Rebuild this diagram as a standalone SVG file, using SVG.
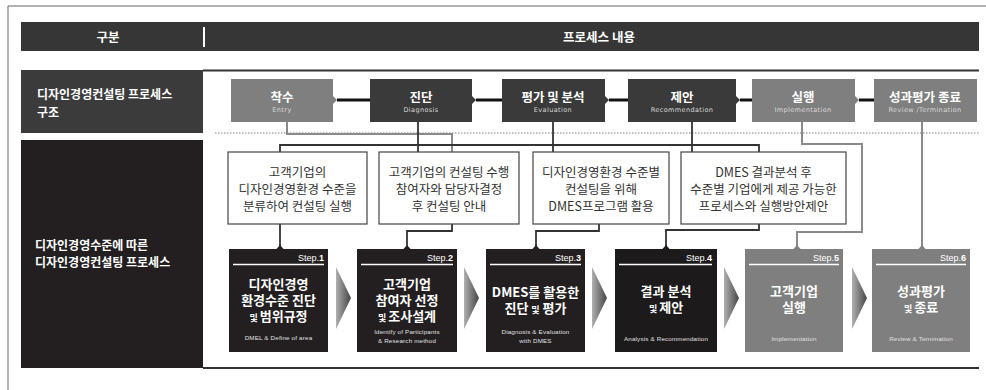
<svg xmlns="http://www.w3.org/2000/svg" width="986" height="390" viewBox="0 0 986 390">
<style>
.kb{font-family:"Noto Sans CJK KR","Noto Sans",sans-serif;font-weight:bold;fill:#fff}
.kr{font-family:"Noto Sans CJK KR","Noto Sans",sans-serif;font-size:12.5px;fill:#333;text-anchor:middle}
.en{font-family:"DejaVu Sans",sans-serif;font-size:6.5px;fill:#d8d8d8;text-anchor:middle;letter-spacing:0.4px}
.es{font-family:"Liberation Sans",Arial,sans-serif;font-size:6.2px;fill:#e0e0e0;text-anchor:middle;letter-spacing:0.2px}
.st{font-family:"Liberation Sans",Arial,sans-serif;font-size:9px;fill:#fff;text-anchor:end}
.tt{font-size:12.5px;text-anchor:middle}
.sb{font-size:13px;text-anchor:middle}
.sm{font-size:9px}
.dk{fill:#3a3a3a}
.gy{fill:#7f7f7f}
.bk{fill:#231f20}
.tb{fill:#fff;stroke:#444;stroke-width:1.2}
.cd{fill:none;stroke:#333;stroke-width:1.8}
.cg{fill:none;stroke:#8a8a8a;stroke-width:2}
.ul{stroke:#fff;stroke-width:1.5}
</style>
<defs>
<linearGradient id="ag" x1="0" y1="0" x2="1" y2="0">
<stop offset="0" stop-color="#b0b0b0"/>
<stop offset="1" stop-color="#454545"/>
</linearGradient>
</defs>
<rect width="986" height="390" fill="#fff"/>
<g id="frame">
<line x1="8" y1="6" x2="986" y2="6" stroke="#666" stroke-width="1"/>
<line x1="8" y1="6" x2="8" y2="390" stroke="#666" stroke-width="1"/>
</g>
<g id="header">
<rect x="21" y="22" width="958" height="29" fill="#363636"/>
<line x1="204" y1="27" x2="204" y2="47" stroke="#fff" stroke-width="2"/>
<text class="kb tt" x="108" y="42" font-size="12">구분</text>
<text class="kb tt" x="599" y="42" font-size="12">프로세스 내용</text>
</g>
<g id="row-labels">
<rect x="21" y="70" width="182" height="63" fill="#3b3b3b"/>
<text class="kb" font-size="12"><tspan x="37" y="99">디자인경영컨설팅 프로세스</tspan><tspan x="37" y="117">구조</tspan></text>
<rect x="21" y="140" width="182" height="228" fill="#231f20"/>
<text class="kb" font-size="12"><tspan x="35" y="250">디자인경영수준에 따른</tspan><tspan x="35" y="267">디자인경영컨설팅 프로세스</tspan></text>
</g>
<g id="rules">
<line x1="203" y1="70.5" x2="979" y2="70.5" stroke="#333" stroke-width="1.8"/>
<line x1="215" y1="133" x2="979" y2="133" stroke="#aaa" stroke-width="1.5" stroke-dasharray="1.5 1.5"/>
<line x1="203" y1="368" x2="979" y2="368" stroke="#333" stroke-width="2"/>
</g>
<g id="connectors">
<line x1="337" y1="100" x2="370" y2="100" stroke="#111" stroke-width="3"/>
<line x1="476" y1="100" x2="502" y2="100" stroke="#111" stroke-width="3"/>
<line x1="609" y1="100" x2="628" y2="100" stroke="#111" stroke-width="3"/>
<line x1="740" y1="100" x2="752" y2="100" stroke="#111" stroke-width="3"/>
<line x1="859" y1="100" x2="874" y2="100" stroke="#111" stroke-width="3"/>
<polyline class="cg" points="287,122 287,134 452,134 452,152"/>
<polyline class="cd" points="280,152 280,145 759,145 759,152"/>
<line class="cd" x1="418" y1="122" x2="418" y2="152"/>
<line class="cd" x1="553" y1="122" x2="553" y2="152"/>
<line class="cd" x1="692" y1="122" x2="692" y2="152"/>
<polyline class="cg" points="802,122 802,144 862,144 862,232 797,232 797,246"/>
<line class="cg" x1="922" y1="122" x2="922" y2="246"/>
<line class="cd" x1="280" y1="224" x2="280" y2="246"/>
<polyline class="cd" points="452,224 452,231 407,231 407,246"/>
<polyline class="cd" points="599,224 599,231 536,231 536,246"/>
<polyline class="cd" points="759,224 759,230 666,230 666,246"/>
<polygon points="336,267 351,298 336,329" fill="url(#ag)"/>
<polygon points="464,267 479,298 464,329" fill="url(#ag)"/>
<polygon points="592,267 607,298 592,329" fill="url(#ag)"/>
<polygon points="724,267 739,298 724,329" fill="url(#ag)"/>
<polygon points="852,267 867,298 852,329" fill="url(#ag)"/>
</g>
<g id="p1">
<rect class="gy" x="231" y="79" width="102" height="43"/>
<polygon class="gy" points="333,96 337,100 333,104"/>
<text class="kb tt" x="282" y="102">착수</text>
<text class="en" x="282" y="112">Entry</text>
</g>
<g id="p2">
<rect class="dk" x="370" y="79" width="102" height="43"/>
<polygon class="dk" points="472,96 476,100 472,104"/>
<text class="kb tt" x="421" y="102">진단</text>
<text class="en" x="421" y="112">Diagnosis</text>
</g>
<g id="p3">
<rect class="dk" x="502" y="79" width="103" height="43"/>
<polygon class="dk" points="605,96 609,100 605,104"/>
<text class="kb tt" x="553" y="102">평가 및 분석</text>
<text class="en" x="553" y="112">Evaluation</text>
</g>
<g id="p4">
<rect class="dk" x="628" y="79" width="108" height="43"/>
<polygon class="dk" points="736,96 740,100 736,104"/>
<text class="kb tt" x="682" y="102">제안</text>
<text class="en" x="682" y="112">Recommendation</text>
</g>
<g id="p5">
<rect class="gy" x="752" y="79" width="103" height="43"/>
<polygon class="gy" points="855,96 859,100 855,104"/>
<text class="kb tt" x="803" y="102">실행</text>
<text class="en" x="803" y="112">Implementation</text>
</g>
<g id="p6">
<rect class="gy" x="874" y="79" width="103" height="43"/>
<text class="kb tt" x="925" y="102">성과평가 종료</text>
<text class="en" x="925" y="112">Review /Termination</text>
</g>
<g id="d1">
<rect class="tb" x="228" y="152" width="139" height="72"/>
<text class="kr"><tspan x="297.5" y="177">고객기업의</tspan><tspan x="297.5" y="194">디자인경영환경 수준을</tspan><tspan x="297.5" y="211">분류하여 컨설팅 실행</tspan></text>
</g>
<g id="d2">
<rect class="tb" x="379" y="152" width="140" height="72"/>
<text class="kr"><tspan x="449" y="177">고객기업의 컨설팅 수행</tspan><tspan x="449" y="194">참여자와 담당자결정</tspan><tspan x="449" y="211">후 컨설팅 안내</tspan></text>
</g>
<g id="d3">
<rect class="tb" x="533" y="152" width="136" height="72"/>
<text class="kr"><tspan x="601" y="177">디자인경영환경 수준별</tspan><tspan x="601" y="194">컨설팅을 위해</tspan><tspan x="601" y="211">DMES프로그램 활용</tspan></text>
</g>
<g id="d4">
<rect class="tb" x="681" y="152" width="165" height="72"/>
<text class="kr"><tspan x="763.5" y="177">DMES 결과분석 후</tspan><tspan x="763.5" y="194">수준별 기업에게 제공 가능한</tspan><tspan x="763.5" y="211">프로세스와 실행방안제안</tspan></text>
</g>
<g id="s1">
<rect class="bk" x="229" y="249" width="99" height="103"/>
<polygon class="bk" points="276,249.5 280,245 284,249.5"/>
<text class="st" x="324" y="261">Step.<tspan font-weight="bold">1</tspan></text>
<line class="ul" x1="233" y1="264.5" x2="324" y2="264.5"/>
<text class="kb sb"><tspan x="278.5" y="289">디자인경영</tspan><tspan x="278.5" y="305">환경수준 진단</tspan><tspan x="278.5" y="321"><tspan class="sm">및 </tspan>범위규정</tspan></text>
<text class="es" x="278.5" y="340">DMEL &amp; Define of area</text>
</g>
<g id="s2">
<rect class="bk" x="357" y="249" width="100" height="103"/>
<polygon class="bk" points="403,249.5 407,245 411,249.5"/>
<text class="st" x="453" y="261">Step.<tspan font-weight="bold">2</tspan></text>
<line class="ul" x1="361" y1="264.5" x2="453" y2="264.5"/>
<text class="kb sb"><tspan x="407" y="289">고객기업</tspan><tspan x="407" y="305">참여자 선정</tspan><tspan x="407" y="321"><tspan class="sm">및 </tspan>조사설계</tspan></text>
<text class="es"><tspan x="407" y="334">Identify of Participants</tspan><tspan x="407" y="343">&amp; Research method</tspan></text>
</g>
<g id="s3">
<rect class="bk" x="486" y="249" width="99" height="103"/>
<polygon class="bk" points="532,249.5 536,245 540,249.5"/>
<text class="st" x="581" y="261">Step.<tspan font-weight="bold">3</tspan></text>
<line class="ul" x1="490" y1="264.5" x2="581" y2="264.5"/>
<text class="kb sb"><tspan x="535.5" y="297">DMES를 활용한</tspan><tspan x="535.5" y="313">진단 <tspan class="sm">및</tspan> 평가</tspan></text>
<text class="es"><tspan x="535.5" y="334">Diagnosis &amp; Evaluation</tspan><tspan x="535.5" y="343">with DMES</tspan></text>
</g>
<g id="s4">
<rect fill="#1d1a1b" x="615" y="249" width="102" height="103"/>
<polygon fill="#1d1a1b" points="662,249.5 666,245 670,249.5"/>
<text class="st" x="712" y="261">Step.<tspan font-weight="bold">4</tspan></text>
<line class="ul" x1="619" y1="264.5" x2="712" y2="264.5"/>
<text class="kb sb"><tspan x="666" y="296">결과 분석</tspan><tspan x="666" y="312"><tspan class="sm">및 </tspan>제안</tspan></text>
<text class="es" x="666" y="341">Analysis &amp; Recommendation</text>
</g>
<g id="s5">
<rect class="gy" x="745" y="249" width="98" height="103"/>
<polygon class="gy" points="793,249.5 797,245 801,249.5"/>
<text class="st" x="839" y="261">Step.<tspan font-weight="bold">5</tspan></text>
<line class="ul" x1="749" y1="264.5" x2="839" y2="264.5"/>
<text class="kb sb"><tspan x="794" y="296">고객기업</tspan><tspan x="794" y="312">실행</tspan></text>
<text class="es" x="794" y="341">Implementation</text>
</g>
<g id="s6">
<rect class="gy" x="872" y="249" width="98" height="103"/>
<polygon class="gy" points="918,249.5 922,245 926,249.5"/>
<text class="st" x="966" y="261">Step.<tspan font-weight="bold">6</tspan></text>
<line class="ul" x1="876" y1="264.5" x2="966" y2="264.5"/>
<text class="kb sb"><tspan x="921" y="296">성과평가</tspan><tspan x="921" y="312"><tspan class="sm">및 </tspan>종료</tspan></text>
<text class="es" x="921" y="341">Review &amp; Termination</text>
</g>
</svg>
